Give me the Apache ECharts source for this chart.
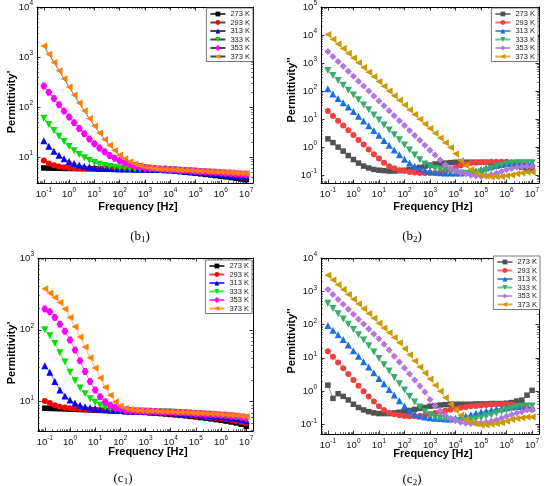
<!DOCTYPE html>
<html>
<head>
<meta charset="utf-8">
<script src="https://cdn.jsdelivr.net/npm/echarts@6.0.0/dist/echarts.min.js"></script>
<style>
html, body { margin: 0; padding: 0; background: #fff; }
#chart { width: 550px; height: 486px; }
</style>
</head>
<body>
<div id="chart"></div>
<script>
// frequencies, 5 points per decade
var freq = [0.1, 0.158, 0.251, 0.398, 0.631, 1, 1.58, 2.51, 3.98, 6.31,
    10, 15.8, 25.1, 39.8, 63.1, 100, 158, 251, 398, 631,
    1e3, 1580, 2510, 3980, 6310, 1e4, 1.58e4, 2.51e4, 3.98e4, 6.31e4,
    1e5, 1.58e5, 2.51e5, 3.98e5, 6.31e5, 1e6, 1.58e6, 2.51e6, 3.98e6, 6.31e6, 1e7];
var temps = ['273 K', '293 K', '313 K', '333 K', '353 K', '373 K'];

// (b1) permittivity'
var b1_273 = [6.0, 5.95, 5.92, 5.9, 5.88, 5.86, 5.84, 5.82, 5.8, 5.78, 5.76, 5.74, 5.72, 5.7, 5.68, 5.66, 5.64, 5.62, 5.6, 5.57, 5.54, 5.5, 5.45, 5.4, 5.35, 5.3, 5.18, 5.06, 4.94, 4.82, 4.7, 4.58, 4.46, 4.34, 4.22, 4.1, 3.98, 3.86, 3.74, 3.62, 3.5];
var b1_293 = [8.5, 7.4, 6.8, 6.4, 6.2, 6.05, 5.95, 5.9, 5.85, 5.82, 5.8, 5.78, 5.76, 5.75, 5.73, 5.71, 5.7, 5.68, 5.66, 5.64, 5.62, 5.6, 5.58, 5.55, 5.52, 5.48, 5.37, 5.26, 5.14, 5.03, 4.92, 4.81, 4.7, 4.59, 4.47, 4.36, 4.25, 4.14, 4.03, 3.91, 3.8];
var b1_313 = [21, 16.3, 13.0, 10.8, 9.2, 8.1, 7.4, 6.9, 6.5, 6.25, 6.1, 5.95, 5.9, 5.85, 5.8, 5.75, 5.72, 5.7, 5.68, 5.66, 5.64, 5.62, 5.6, 5.57, 5.54, 5.5, 5.4, 5.3, 5.2, 5.1, 5.0, 4.9, 4.8, 4.7, 4.6, 4.5, 4.4, 4.3, 4.2, 4.1, 4.0];
var b1_333 = [59, 44.3, 33.6, 25.9, 20.3, 16.2, 13.3, 11.2, 9.6, 8.5, 7.7, 7.1, 6.7, 6.4, 6.2, 6.0, 5.9, 5.8, 5.75, 5.7, 5.65, 5.62, 5.6, 5.58, 5.56, 5.53, 5.45, 5.36, 5.28, 5.19, 5.11, 5.02, 4.94, 4.85, 4.77, 4.68, 4.6, 4.51, 4.43, 4.34, 4.25];
var b1_353 = [262, 196, 147, 110, 83, 63, 48, 37, 28.9, 22.9, 18.4, 15.0, 12.6, 10.7, 9.4, 8.4, 7.6, 7.1, 6.7, 6.4, 6.1, 6.0, 5.85, 5.75, 5.7, 5.6, 5.5, 5.43, 5.35, 5.27, 5.2, 5.12, 5.04, 4.97, 4.9, 4.83, 4.76, 4.69, 4.62, 4.55, 4.48];
var b1_373 = [1660, 1135, 777, 532, 365, 250, 173, 120, 83.4, 58.6, 41.7, 30.2, 22.4, 17.0, 13.4, 10.9, 9.2, 8.0, 7.2, 6.7, 6.3, 6.0, 5.85, 5.75, 5.65, 5.6, 5.5, 5.45, 5.4, 5.33, 5.27, 5.2, 5.14, 5.08, 5.02, 4.96, 4.9, 4.84, 4.78, 4.72, 4.65];

// (b2) permittivity''
var b2_273 = [1.97, 1.45, 1.0, 0.72, 0.5, 0.36, 0.27, 0.21, 0.18, 0.16, 0.15, 0.145, 0.14, 0.14, 0.145, 0.15, 0.16, 0.175, 0.19, 0.21, 0.23, 0.25, 0.26, 0.27, 0.28, 0.29, 0.29, 0.29, 0.29, 0.29, 0.29, 0.29, 0.28, 0.27, 0.26, 0.25, 0.23, 0.21, 0.19, 0.17, 0.16];
var b2_293 = [19.5, 13, 8.7, 5.9, 4.0, 2.7, 1.8, 1.23, 0.83, 0.56, 0.39, 0.28, 0.21, 0.175, 0.15, 0.14, 0.13, 0.125, 0.12, 0.12, 0.12, 0.12, 0.125, 0.14, 0.16, 0.19, 0.22, 0.25, 0.27, 0.28, 0.29, 0.29, 0.3, 0.3, 0.3, 0.3, 0.29, 0.28, 0.26, 0.23, 0.2];
var b2_313 = [120, 79, 54, 38, 27, 18.6, 12.6, 8.5, 5.75, 3.9, 2.63, 1.74, 1.17, 0.79, 0.54, 0.37, 0.27, 0.21, 0.174, 0.151, 0.138, 0.129, 0.123, 0.12, 0.12, 0.12, 0.12, 0.125, 0.13, 0.14, 0.16, 0.18, 0.2, 0.22, 0.24, 0.26, 0.28, 0.29, 0.29, 0.28, 0.27];
var b2_333 = [537, 363, 240, 162, 107, 72, 49, 32, 21.4, 14.1, 9.3, 6.2, 4.1, 2.75, 1.82, 1.2, 0.79, 0.52, 0.355, 0.25, 0.2, 0.174, 0.162, 0.155, 0.145, 0.132, 0.12, 0.115, 0.115, 0.12, 0.132, 0.151, 0.174, 0.2, 0.224, 0.245, 0.263, 0.275, 0.28, 0.28, 0.28];
var b2_353 = [2570, 1710, 1140, 762, 508, 339, 226, 151, 100, 67, 44.7, 29.8, 19.9, 13.2, 8.8, 5.9, 3.9, 2.6, 1.75, 1.16, 0.78, 0.52, 0.35, 0.234, 0.178, 0.145, 0.123, 0.11, 0.1, 0.093, 0.091, 0.095, 0.105, 0.117, 0.135, 0.155, 0.174, 0.19, 0.2, 0.204, 0.21];
var b2_373 = [10470, 7110, 4830, 3280, 2230, 1510, 1030, 698, 474, 322, 219, 149, 101, 68.5, 46.6, 31.6, 21.5, 14.6, 9.9, 6.7, 4.6, 3.1, 2.1, 1.43, 0.97, 0.575, 0.33, 0.22, 0.158, 0.12, 0.1, 0.091, 0.087, 0.087, 0.089, 0.095, 0.102, 0.112, 0.12, 0.126, 0.129];

// (c1) permittivity'
var c1_273 = [8.1, 8.05, 8.0, 7.95, 7.9, 7.85, 7.8, 7.75, 7.7, 7.65, 7.6, 7.55, 7.5, 7.45, 7.4, 7.35, 7.3, 7.24, 7.18, 7.12, 7.06, 6.98, 6.9, 6.82, 6.73, 6.64, 6.54, 6.44, 6.34, 6.23, 6.12, 6.0, 5.88, 5.76, 5.63, 5.5, 5.36, 5.21, 5.05, 4.85, 4.55];
var c1_293 = [10.2, 9.55, 8.9, 8.5, 8.3, 8.1, 8.0, 7.9, 7.82, 7.75, 7.68, 7.62, 7.56, 7.5, 7.45, 7.4, 7.35, 7.3, 7.25, 7.2, 7.15, 7.08, 7.0, 6.92, 6.84, 6.76, 6.67, 6.58, 6.49, 6.4, 6.3, 6.2, 6.1, 6.0, 5.9, 5.8, 5.67, 5.53, 5.38, 5.2, 5.0];
var c1_313 = [31.6, 25.7, 19, 14.5, 12, 10.5, 9.55, 8.9, 8.5, 8.2, 8.0, 7.85, 7.76, 7.67, 7.58, 7.5, 7.43, 7.38, 7.34, 7.3, 7.27, 7.22, 7.17, 7.12, 7.06, 7.0, 6.93, 6.86, 6.78, 6.7, 6.62, 6.53, 6.44, 6.35, 6.26, 6.16, 6.05, 5.93, 5.8, 5.63, 5.4];
var c1_333 = [100, 83, 64.6, 47.9, 35.5, 25.7, 19.5, 15.5, 12.9, 11, 9.8, 8.9, 8.3, 7.95, 7.76, 7.59, 7.5, 7.42, 7.38, 7.35, 7.32, 7.28, 7.24, 7.2, 7.15, 7.1, 7.04, 6.98, 6.92, 6.85, 6.78, 6.7, 6.62, 6.54, 6.46, 6.38, 6.28, 6.18, 6.06, 5.93, 5.75];
var c1_353 = [195, 178, 148, 120, 95.5, 72.4, 52.5, 37.2, 26.3, 19.1, 14.5, 11.7, 10, 8.9, 8.3, 7.95, 7.67, 7.5, 7.41, 7.38, 7.35, 7.32, 7.28, 7.24, 7.2, 7.15, 7.1, 7.04, 6.98, 6.92, 6.86, 6.8, 6.73, 6.66, 6.59, 6.52, 6.44, 6.35, 6.25, 6.12, 5.95];
var c1_373 = [372, 324, 282, 240, 195, 148, 110, 79.4, 57.5, 40.7, 29.5, 21.4, 15.8, 12.3, 10, 8.7, 8.1, 7.76, 7.59, 7.5, 7.41, 7.38, 7.34, 7.3, 7.26, 7.22, 7.17, 7.12, 7.07, 7.02, 6.96, 6.9, 6.84, 6.78, 6.72, 6.66, 6.58, 6.5, 6.42, 6.33, 6.2];

// (c2) permittivity''
var c2_273 = [1.5, 0.6, 0.83, 0.69, 0.54, 0.4, 0.32, 0.27, 0.24, 0.22, 0.21, 0.21, 0.21, 0.22, 0.23, 0.245, 0.26, 0.28, 0.3, 0.32, 0.35, 0.36, 0.38, 0.39, 0.4, 0.4, 0.4, 0.4, 0.4, 0.41, 0.41, 0.41, 0.42, 0.42, 0.42, 0.43, 0.45, 0.5, 0.53, 0.75, 1.05];
var c2_293 = [15.8, 10.7, 7.2, 4.8, 3.24, 2.14, 1.45, 0.98, 0.68, 0.48, 0.35, 0.27, 0.224, 0.2, 0.186, 0.178, 0.174, 0.174, 0.178, 0.186, 0.2, 0.219, 0.24, 0.257, 0.275, 0.295, 0.316, 0.33, 0.347, 0.355, 0.37, 0.38, 0.39, 0.4, 0.4, 0.4, 0.39, 0.37, 0.347, 0.316, 0.28];
var c2_313 = [93, 67.6, 49, 35.5, 24, 16.2, 11.2, 7.6, 5.25, 3.55, 2.4, 1.66, 1.12, 0.76, 0.51, 0.355, 0.257, 0.204, 0.178, 0.166, 0.158, 0.151, 0.148, 0.145, 0.145, 0.151, 0.162, 0.178, 0.195, 0.214, 0.234, 0.25, 0.27, 0.29, 0.3, 0.316, 0.33, 0.34, 0.34, 0.33, 0.316];
var c2_333 = [437, 303, 211, 147, 102, 70.8, 49.2, 34.2, 22.9, 14.8, 9.55, 6.17, 3.98, 2.57, 1.66, 1.07, 0.69, 0.47, 0.33, 0.24, 0.195, 0.166, 0.151, 0.141, 0.135, 0.129, 0.126, 0.129, 0.135, 0.145, 0.158, 0.174, 0.19, 0.214, 0.24, 0.27, 0.3, 0.33, 0.35, 0.355, 0.355];
var c2_353 = [1120, 798, 568, 404, 287, 204, 145, 103, 73.5, 52.2, 37.2, 25.7, 17, 11.2, 7.4, 4.9, 3.24, 2.14, 1.41, 0.93, 0.56, 0.36, 0.25, 0.19, 0.151, 0.129, 0.115, 0.107, 0.105, 0.107, 0.11, 0.115, 0.123, 0.135, 0.151, 0.174, 0.195, 0.219, 0.24, 0.27, 0.28];
var c2_373 = [3020, 2170, 1560, 1120, 802, 575, 413, 296, 213, 153, 110, 78.7, 56.5, 40.6, 28.5, 18.7, 12.3, 8.05, 5.3, 3.47, 2.28, 1.49, 0.98, 0.63, 0.4, 0.27, 0.186, 0.138, 0.115, 0.102, 0.095, 0.095, 0.1, 0.105, 0.112, 0.123, 0.138, 0.148, 0.158, 0.166, 0.166];

var chart = echarts.init(document.getElementById('chart'));

var FONT = '"Liberation Sans", Arial, sans-serif';
var brightColors = ['#000000', '#ff0000', '#0000ff', '#00e000', '#ff00ff', '#ff8000'];
var originColors = ['#515151', '#f14040', '#1a6fdf', '#37ad6b', '#b177de', '#cc9900'];
var triDown = 'path://M0,0L10,0L5,9z';
var triLeft = 'path://M10,0L10,10L0,5z';
var hexagon = 'path://M3,0L7,0L10,5L7,10L3,10L0,5z';
var brightSymbols = ['rect', 'circle', 'triangle', triDown, hexagon, triLeft];
var originSymbols = ['rect', 'circle', 'triangle', triDown, 'diamond', triLeft];
var symbolSizes = [5.5, 6, 7, 7, 7, 7];

var panels = [
    { key: 'b1', data: [b1_273, b1_293, b1_313, b1_333, b1_353, b1_373], colors: brightColors, symbols: brightSymbols, lineColor: '#444',
      grid: { left: 37, top: 5, width: 216, height: 178 }, ymin: 3.0, ymax: 1e4,
      legend: { right: 297, top: 8 } },
    { key: 'b2', data: [b2_273, b2_293, b2_313, b2_333, b2_353, b2_373], colors: originColors, symbols: originSymbols, lineColor: null,
      grid: { left: 321, top: 5, width: 218, height: 178 }, ymin: 0.0525, ymax: 1e5,
      legend: { right: 12, top: 8 } },
    { key: 'c1', data: [c1_273, c1_293, c1_313, c1_333, c1_353, c1_373], colors: brightColors, symbols: brightSymbols, lineColor: null,
      grid: { left: 38, top: 258, width: 215, height: 173 }, ymin: 3.9, ymax: 1e3,
      legend: { right: 298, top: 260 } },
    { key: 'c2', data: [c2_273, c2_293, c2_313, c2_333, c2_353, c2_373], colors: originColors, symbols: originSymbols, lineColor: null,
      grid: { left: 321, top: 258, width: 218, height: 176 }, ymin: 0.051, ymax: 1e4,
      legend: { right: 10, top: 256 } }
];

function powLabel(v) {
    var e = Math.log10(v);
    var r = Math.round(e);
    if (Math.abs(e - r) > 0.01) return '';
    return '{b|10}{e|' + r + '}';
}

var labelRich = {
    b: { fontSize: 9.5, fontFamily: FONT, color: '#111' },
    e: { fontSize: 6.5, fontFamily: FONT, color: '#111', padding: [0, 0, 7, 0] }
};

function logAxis(gridIndex, pos, min, max, withLabels) {
    return {
        type: 'log', logBase: 10, gridIndex: gridIndex, position: pos,
        min: min, max: max, splitNumber: 9,
        axisLine: { show: true, lineStyle: { color: '#000', width: 1 } },
        axisTick: { show: true, inside: true, length: 3.5, lineStyle: { color: '#000', width: 0.8 } },
        minorTick: { show: true, splitNumber: 9, length: 1.8, lineStyle: { color: '#000', width: 0.6 } },
        splitLine: { show: false },
        axisLabel: { show: withLabels, formatter: powLabel, rich: labelRich, margin: 4, color: '#111' }
    };
}

var xAxes = [], yAxes = [], grids = [], legends = [], series = [];
panels.forEach(function (p, g) {
    grids.push(p.grid);
    xAxes.push(logAxis(g, 'bottom', 0.0537, 1.86e7, true));
    xAxes.push(logAxis(g, 'top', 0.0537, 1.86e7, false));
    yAxes.push(logAxis(g, 'left', p.ymin, p.ymax, true));
    yAxes.push(logAxis(g, 'right', p.ymin, p.ymax, false));
    var names = [];
    p.data.forEach(function (vals, k) {
        var name = p.key + ' ' + temps[k];
        names.push(name);
        series.push({
            type: 'line', name: name,
            xAxisIndex: 2 * g, yAxisIndex: 2 * g,
            data: freq.map(function (f, i) { return [f, vals[i]]; }),
            symbol: p.symbols[k], symbolSize: symbolSizes[k],
            itemStyle: { color: p.colors[k] },
            lineStyle: { color: p.lineColor || p.colors[k], width: 0.8, opacity: p.lineColor ? 1 : 0.75 },
            animation: false
        });
    });
    legends.push({
        orient: 'vertical', right: p.legend.right, top: p.legend.top,
        data: names, selectedMode: false,
        formatter: function (n) { return n.slice(3); },
        itemWidth: 15, itemHeight: 6, itemGap: 0.5,
        padding: [2, 3, 1, 3],
        borderColor: '#555', borderWidth: 0.8, backgroundColor: '#fff',
        textStyle: { fontSize: 7.5, fontFamily: FONT, color: '#222' }
    });
});

function title(x, y, text, vertical) {
    return {
        type: 'text', x: x, y: y, rotation: vertical ? Math.PI / 2 : 0,
        style: { text: text, font: 'bold 11px ' + FONT, fill: '#000', align: 'center', verticalAlign: 'middle' }
    };
}
function caption(x, y, letter, num) {
    return {
        type: 'text', x: x, y: y,
        style: {
            text: '{a|(' + letter + '}{s|' + num + '}{a|)}', align: 'center', verticalAlign: 'middle',
            rich: {
                a: { fontSize: 13, fontFamily: '"Liberation Serif", serif', fill: '#000' },
                s: { fontSize: 9, fontFamily: '"Liberation Serif", serif', fill: '#000', padding: [6, 0, 0, 0] }
            }
        }
    };
}

option = {
    backgroundColor: '#fff',
    animation: false,
    grid: grids,
    xAxis: xAxes,
    yAxis: yAxes,
    legend: legends,
    series: series,
    graphic: [
        title(138, 207, 'Frequency [Hz]'),
        title(433, 207, 'Frequency [Hz]'),
        title(148, 452, 'Frequency [Hz]'),
        title(433, 454, 'Frequency [Hz]'),
        title(12, 102, "Permittivity'", true),
        title(292, 90, "Permittivity''", true),
        title(12, 353, "Permittivity'", true),
        title(292, 341, "Permittivity''", true),
        caption(140, 237, 'b', '1'),
        caption(412, 237, 'b', '2'),
        caption(123, 479, 'c', '1'),
        caption(412, 480, 'c', '2')
    ]
};

chart.setOption(option);
</script>
</body>
</html>
